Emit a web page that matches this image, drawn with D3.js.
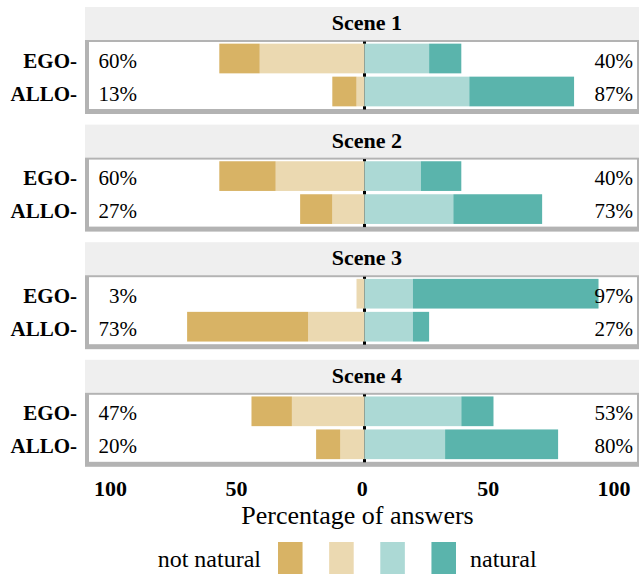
<!DOCTYPE html>
<html>
<head>
<meta charset="utf-8">
<script src="https://cdn.jsdelivr.net/npm/d3@7"></script>
<style>
  body { margin: 0; background: #fff; }
  svg { display: block; font-family: "Liberation Serif", "Times New Roman", serif; }
</style>
</head>
<body>
<div class="likert-view"></div>
<script>
// answers per scene and perspective (30 participants -> % of answers)
scenes = ["Scene 1", "Scene 2", "Scene 3", "Scene 4"]
groups = ["EGO", "ALLO"]
levels = ["not natural", "rather not natural", "rather natural", "natural"]
// one value per scene x group : S1 EGO, S1 ALLO, S2 EGO, ...
notNatural    = [16.7, 10.0, 23.3, 13.3,  0.0, 50.0, 16.7, 10.0]
ratherNot     = [43.3,  3.3, 36.7, 13.3,  3.3, 23.3, 30.0, 10.0]
ratherNatural = [26.7, 43.3, 23.3, 36.7, 20.0, 20.0, 40.0, 33.3]
natural       = [13.3, 43.3, 16.7, 36.7, 76.7,  6.7, 13.3, 46.7]
ticks = [-100, -50, 0, 50, 100]
colors = ["#d8b365", "#ebd9b1", "#acd9d5", "#5ab4ac"]

width = 641
height = 576
facetTop = 7
facetStep = 117.6
stripH = 33
panelH = 74
panelLeft = 85
panelRight = 639

rows = []
scenes.forEach((s, si) => {
  groups.forEach((g, gi) => {
    i = si * 2 + gi
    rows.push({
      scene: s, group: g,
      vals: [notNatural[i], ratherNot[i], ratherNatural[i], natural[i]]
    })
  })
})

svg = d3.select('.likert-view').append('svg')
    .attr("width", width)
    .attr("height", height);

scaleX = d3.scaleLinear()
    .domain([-100, 100])
    .range([122.5, 606.5]);

// tick labels sit on a slightly wider axis in the original
axisX = d3.scaleLinear()
    .domain([-100, 100])
    .range([110, 613.6]);

scaleColor = d3.scaleOrdinal()
    .domain(levels)
    .range(colors);

scenes.forEach((scene, si) => {
  top0 = facetTop + si * facetStep
  pTop = top0 + stripH
  g = svg.append("g")

  // strip
  g.append("rect")
      .attr("x", panelLeft).attr("y", top0)
      .attr("width", panelRight - panelLeft).attr("height", stripH)
      .attr("fill", "#efefef");
  g.append("text")
      .attr("x", 367).attr("y", top0 + stripH / 2 + 6.5)
      .attr("text-anchor", "middle")
      .style("font-size", "22px").style("font-weight", "bold")
      .text(scene);

  // panel frame
  g.append("rect")
      .attr("x", panelLeft).attr("y", pTop)
      .attr("width", panelRight - panelLeft).attr("height", panelH)
      .attr("fill", "#b3b3b3");
  g.append("rect")
      .attr("x", panelLeft + 4).attr("y", pTop + 2)
      .attr("width", panelRight - panelLeft - 6).attr("height", panelH - 7)
      .attr("fill", "#fff");

  scaleY = d3.scaleBand()
      .domain(groups)
      .range([pTop + 2, pTop + 68])
      .paddingInner(0.1)
      .paddingOuter(0.05);

  // zero line
  g.append("line")
      .attr("x1", scaleX(0)).attr("x2", scaleX(0))
      .attr("y1", pTop + 1.5).attr("y2", pTop + 69.5)
      .attr("stroke", "#000").attr("stroke-width", 3);

  sceneRows = rows.filter(r => r.scene == scene)
  segs = []
  sceneRows.forEach(r => {
    v = r.vals
    segs.push({group: r.group, level: levels[1], x0: -v[1], x1: 0})
    segs.push({group: r.group, level: levels[0], x0: -v[1] - v[0], x1: -v[1]})
    segs.push({group: r.group, level: levels[2], x0: 0, x1: v[2]})
    segs.push({group: r.group, level: levels[3], x0: v[2], x1: v[2] + v[3]})
  })

  g.selectAll("rect.bar")
      .data(segs.filter(d => d.x1 > d.x0))
      .join("rect")
      .attr("class", "bar")
      .attr("x", d => scaleX(d.x0))
      .attr("width", d => scaleX(d.x1) - scaleX(d.x0))
      .attr("y", d => scaleY(d.group))
      .attr("height", scaleY.bandwidth())
      .attr("fill", d => scaleColor(d.level));

  // percentages
  g.selectAll("text.low")
      .data(sceneRows)
      .join("text")
      .attr("class", "low")
      .attr("x", 137)
      .attr("y", d => scaleY(d.group) + scaleY.bandwidth() / 2 + 9)
      .attr("text-anchor", "end")
      .style("font-size", "21px")
      .text(d => Math.round(d.vals[0] + d.vals[1]) + "%");
  g.selectAll("text.high")
      .data(sceneRows)
      .join("text")
      .attr("class", "high")
      .attr("x", 633)
      .attr("y", d => scaleY(d.group) + scaleY.bandwidth() / 2 + 9)
      .attr("text-anchor", "end")
      .style("font-size", "21px")
      .text(d => Math.round(d.vals[2] + d.vals[3]) + "%");

  // group labels
  g.selectAll("text.grp")
      .data(groups)
      .join("text")
      .attr("class", "grp")
      .attr("x", 77)
      .attr("y", d => scaleY(d) + scaleY.bandwidth() / 2 + 9)
      .attr("text-anchor", "end")
      .style("font-size", "21px").style("font-weight", "bold")
      .text(d => d + "-");
})

// x axis
xAxis = g => g
    .attr("transform", `translate(0, 474)`)
    .call(d3.axisBottom(axisX).tickValues(ticks).tickSize(0).tickPadding(6)
          .tickFormat(d => Math.abs(d)))
    .call(g => g.select(".domain").remove())

svg.append("g")
    .call(xAxis)
    .selectAll("text")
    .attr("fill", "#000")
    .style("font-family", "Liberation Serif, serif")
    .style("font-size", "22px").style("font-weight", "bold");

svg.append("text")
    .attr("x", 357.5).attr("y", 524)
    .attr("text-anchor", "middle")
    .style("font-size", "26px")
    .text("Percentage of answers");

// legend
legendX = d3.scaleBand()
    .domain(levels)
    .range([278, 456])
    .paddingInner(0.52);

svg.selectAll("rect.key")
    .data(levels)
    .join("rect")
    .attr("class", "key")
    .attr("x", d => legendX(d))
    .attr("y", 542)
    .attr("width", legendX.bandwidth())
    .attr("height", 32)
    .attr("fill", d => scaleColor(d));

svg.append("text")
    .attr("x", 261).attr("y", 567)
    .attr("text-anchor", "end")
    .style("font-size", "24px")
    .text(levels[0]);
svg.append("text")
    .attr("x", 470).attr("y", 567)
    .style("font-size", "24px")
    .text(levels[3]);
</script>
</body>
</html>
